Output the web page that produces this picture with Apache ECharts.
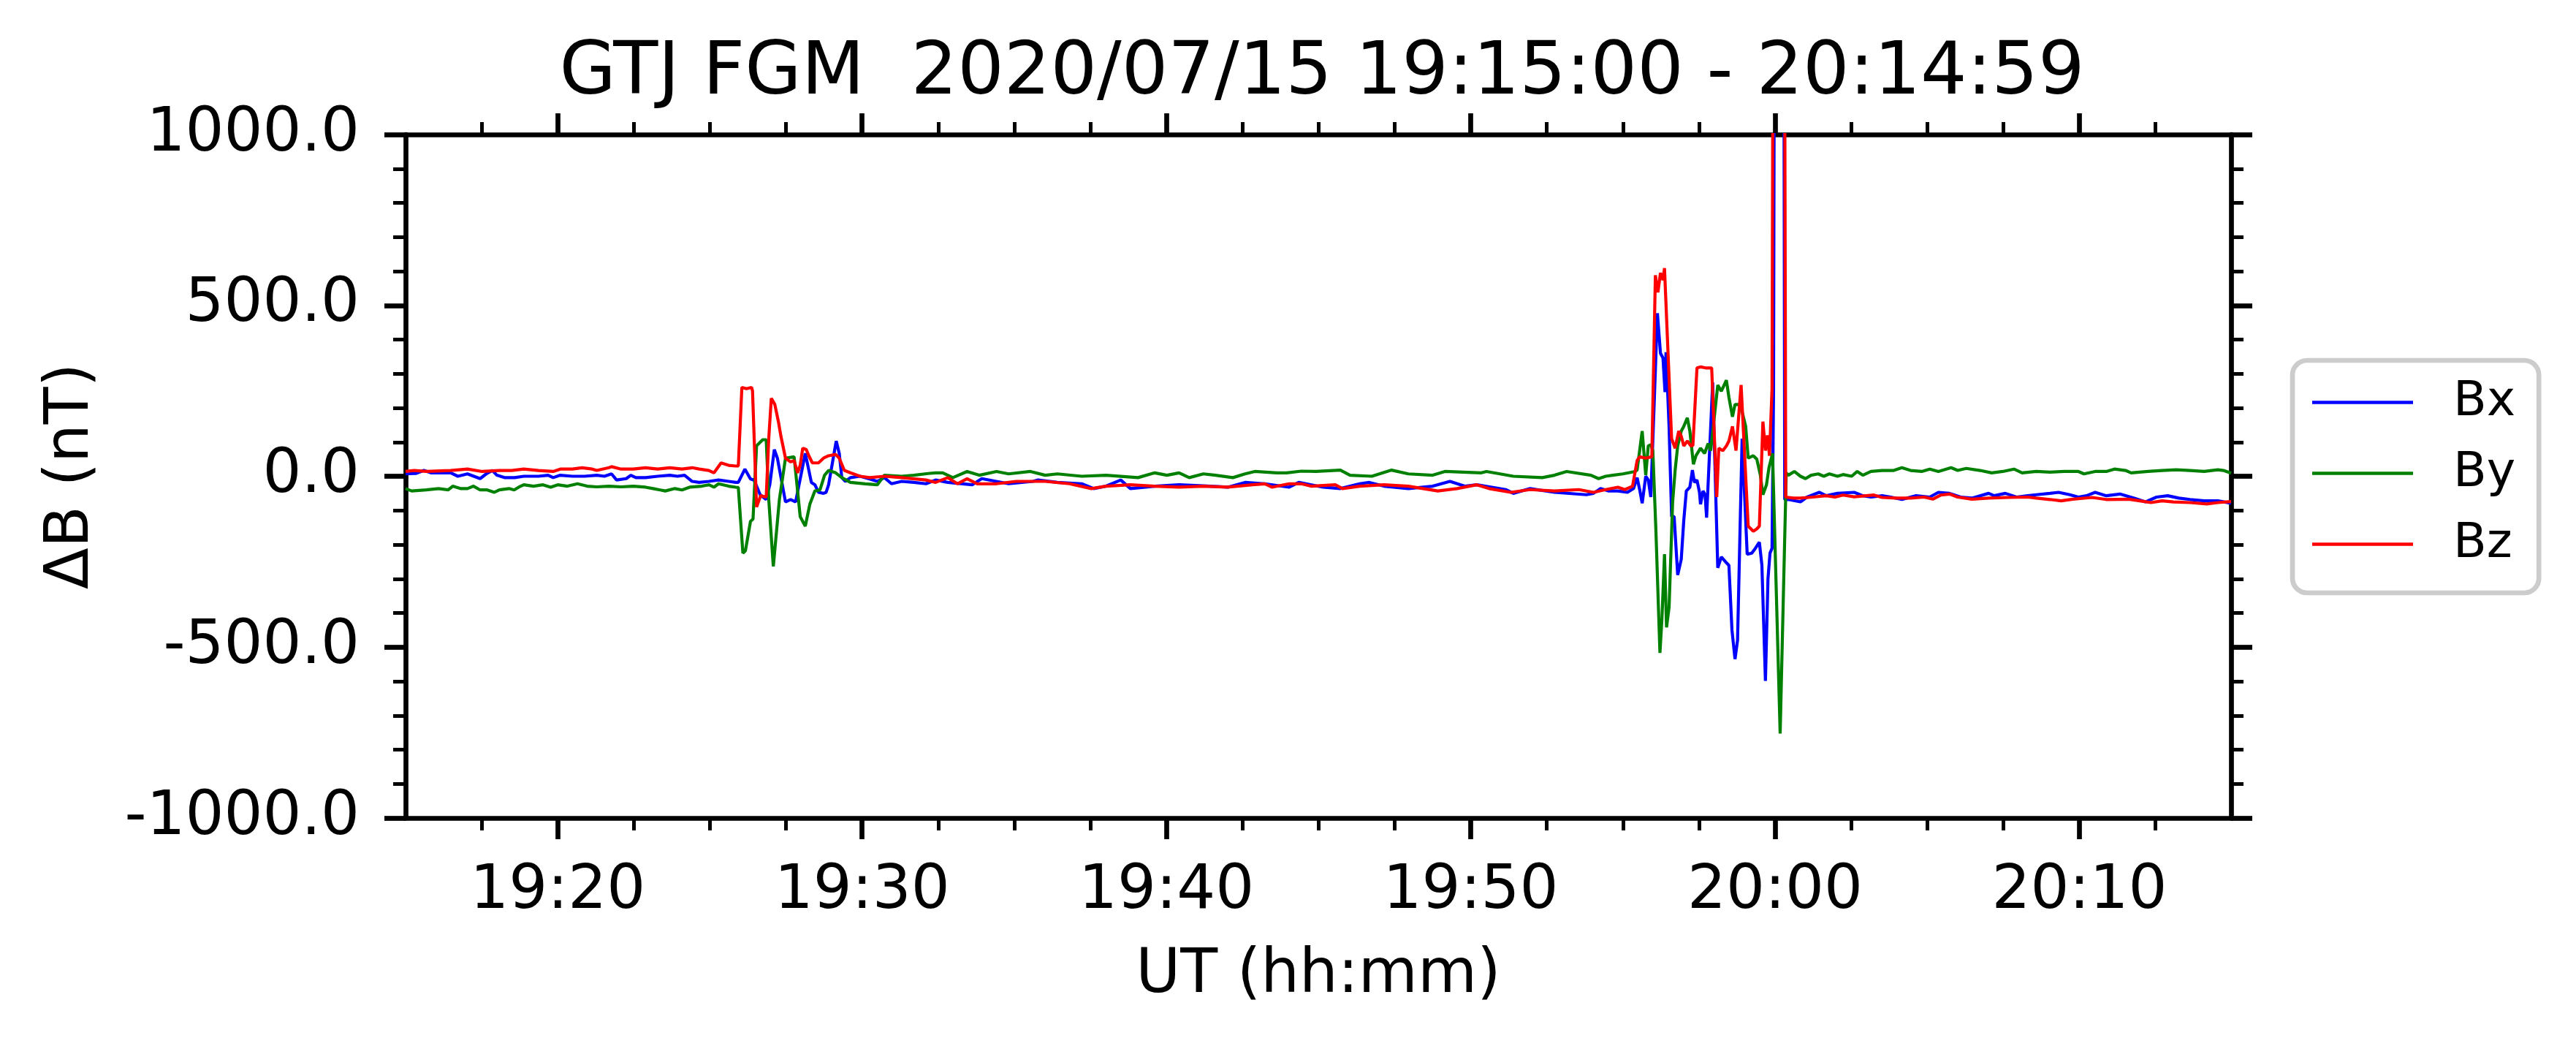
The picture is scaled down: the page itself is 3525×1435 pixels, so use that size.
<!DOCTYPE html>
<html>
<head>
<meta charset="utf-8">
<script src="https://cdn.jsdelivr.net/npm/echarts@6/dist/echarts.min.js"></script>
<style>
html,body{margin:0;padding:0;background:#fff;}
#chart{width:3525px;height:1435px;}
</style>
</head>
<body>
<div id="chart"></div>
<script>
// time in seconds after 19:15:00 UT, values in nT
const bxTime = [0,20,36,50,89,103,122,147,159,171,180,195,215,233,262,281,291,305,329,353,377,392,406,416,435,444,454,473,497,521,536,550,565,579,598,617,637,651,656,669,680,687,699,711,718,727,733,749,759,769,788,800,807,814,824,829,834,849,855,860,867,877,896,915,930,944,958,978,1002,1026,1045,1069,1117,1136,1189,1237,1247,1285,1333,1357,1381,1410,1429,1477,1525,1573,1621,1655,1694,1742,1761,1809,1843,1881,1900,1929,1977,2025,2059,2088,2112,2169,2184,2217,2265,2328,2342,2356,2371,2390,2409,2421,2428,2433,2438,2445,2450,2455,2468,2474,2479,2483,2485,2491,2496,2501,2508,2515,2520,2525,2532,2537,2541,2546,2551,2553,2558,2562,2565,2577,2587,2594,2604,2609,2615,2621,2626,2635,2645,2654,2661,2669,2674,2681,2686,2690,2694,2697,2700,2716,2719,2726,2750,2763,2787,2801,2823,2856,2873,2889,2911,2928,2950,2978,3005,3022,3044,3066,3088,3121,3132,3154,3176,3198,3215,3242,3259,3281,3298,3314,3331,3353,3380,3408,3430,3452,3474,3496,3518,3546,3573,3599];
const bxValue = [7,8,17,10,10,0,7,-7,7,17,3,-4,-4,0,0,3,-4,3,0,0,3,0,7,-11,-7,3,-4,-4,0,3,0,3,-15,-18,-15,-11,-15,-18,-18,21,-8,-11,-54,-68,-25,78,53,-75,-68,-75,67,-18,-25,-47,-50,-47,-25,103,67,-4,-15,-4,0,-8,-15,-4,-22,-15,-18,-22,-11,-18,-25,-7,-22,-15,-11,-18,-22,-36,-29,-11,-36,-29,-25,-28,-32,-18,-22,-32,-18,-32,-36,-22,-18,-29,-36,-29,-15,-29,-25,-39,-50,-36,-47,-54,-50,-36,-43,-43,-47,-36,-4,-39,-79,0,-11,-61,477,360,346,246,363,146,-118,-118,-289,-243,-129,-43,-32,18,-18,-11,-47,-82,-43,-54,-121,274,-268,-236,-253,-261,-450,-535,-480,110,-228,-225,-211,-193,-260,-599,-300,-225,-211,246,2500,2500,-68,-68,-75,-61,-47,-57,-50,-47,-57,-61,-57,-61,-68,-57,-61,-47,-50,-61,-64,-50,-57,-50,-61,-57,-54,-50,-47,-54,-61,-57,-47,-57,-52,-64,-75,-61,-57,-64,-68,-72,-72,-79];

const byTime = [0,12,41,65,84,93,108,122,134,147,161,175,185,204,214,223,233,252,271,286,300,319,339,358,377,401,425,449,473,488,502,512,531,545,560,584,598,608,617,637,651,656,665,670,680,685,692,704,711,716,725,737,749,766,778,788,797,807,817,826,834,848,860,877,906,930,944,978,1002,1030,1045,1059,1079,1107,1131,1165,1189,1232,1261,1285,1333,1381,1444,1477,1501,1525,1545,1573,1597,1631,1655,1674,1718,1737,1766,1795,1843,1862,1905,1944,1977,2025,2049,2121,2131,2184,2241,2265,2289,2337,2352,2366,2380,2400,2424,2428,2438,2445,2450,2455,2459,2465,2473,2477,2482,2486,2491,2498,2503,2508,2515,2520,2527,2532,2539,2544,2553,2561,2568,2573,2587,2594,2604,2609,2616,2621,2628,2635,2642,2647,2657,2664,2671,2676,2683,2688,2695,2710,2722,2726,2738,2750,2760,2771,2785,2796,2807,2823,2834,2851,2862,2873,2889,2911,2934,2950,2967,2989,3005,3022,3047,3060,3077,3104,3127,3149,3171,3187,3215,3242,3270,3298,3309,3331,3353,3369,3391,3402,3435,3463,3491,3518,3546,3573,3584,3599];
const byValue = [-36,-43,-40,-36,-40,-29,-36,-36,-29,-40,-40,-47,-40,-36,-40,-32,-25,-29,-25,-32,-25,-29,-22,-29,-31,-29,-31,-29,-32,-36,-40,-43,-36,-40,-32,-29,-25,-32,-22,-29,-32,-33,-225,-218,-132,-125,89,107,107,-68,-264,-68,53,57,-118,-146,-82,-43,-40,3,17,10,-4,-18,-22,-25,3,0,3,8,10,10,-4,14,3,14,7,14,3,7,0,3,-4,10,3,10,-4,7,3,-4,7,14,10,10,15,14,18,3,0,18,7,3,14,10,14,0,-4,3,14,3,-7,0,3,7,14,18,132,3,89,92,75,-157,-517,-415,-228,-442,-384,-76,18,89,132,146,171,132,35,60,82,67,96,75,267,249,281,231,174,210,210,189,146,53,60,50,3,-54,-25,25,67,-753,10,3,14,0,-7,3,7,0,7,0,5,0,14,3,14,17,17,25,17,14,21,14,25,17,23,17,10,14,21,10,14,12,14,14,7,14,14,21,17,10,14,17,19,17,14,19,17,9];

const bzTime = [0,17,41,89,122,151,185,209,233,262,291,305,329,348,368,377,401,406,425,449,473,497,521,545,565,579,598,608,622,637,651,656,663,672,682,684,692,700,711,716,721,728,735,740,749,759,766,773,778,783,790,795,802,814,824,834,848,855,865,877,896,915,944,978,1026,1045,1069,1088,1107,1127,1165,1204,1261,1309,1352,1381,1429,1477,1525,1573,1621,1670,1694,1708,1742,1766,1785,1833,1847,1881,1929,1977,2035,2073,2112,2136,2179,2217,2265,2313,2342,2366,2390,2404,2419,2428,2433,2445,2457,2464,2469,2474,2479,2482,2496,2503,2510,2515,2520,2527,2534,2538,2546,2553,2563,2575,2585,2589,2597,2604,2609,2616,2623,2633,2647,2657,2664,2669,2676,2681,2685,2689,2694,2698,2717,2721,2736,2750,2774,2801,2818,2834,2856,2895,2911,2939,2967,2994,3011,3027,3044,3060,3088,3121,3160,3198,3215,3242,3264,3287,3325,3353,3397,3419,3441,3463,3485,3518,3551,3573,3599];
const bzValue = [14,17,14,17,21,14,17,17,21,17,14,21,21,25,21,17,25,28,21,21,25,21,25,21,25,21,17,10,39,32,30,30,260,256,260,250,-90,-57,-61,110,228,210,160,117,53,42,46,10,32,82,78,60,39,39,53,60,64,53,17,10,0,-4,0,-4,-11,-18,-4,-22,-7,-22,-22,-15,-15,-22,-36,-29,-25,-29,-32,-29,-32,-25,-22,-32,-22,-22,-29,-25,-36,-29,-25,-29,-43,-36,-25,-36,-47,-39,-43,-39,-47,-39,-32,-39,-29,46,57,53,57,588,538,595,574,609,110,82,132,117,89,103,89,90,317,320,317,317,-61,82,75,89,103,146,75,267,-146,-161,-154,-146,160,75,120,60,256,2500,2500,-61,-64,-64,-61,-57,-61,-55,-60,-55,-62,-64,-64,-61,-67,-55,-52,-61,-67,-64,-62,-61,-64,-68,-72,-67,-62,-68,-67,-72,-77,-72,-75,-77,-81,-77,-74];

const seriesNames = ['Bx', 'By', 'Bz'];
const seriesColors = ['#0000ff', '#008000', '#ff0000'];
const majorTimeTicks = [300, 900, 1500, 2100, 2700, 3300];
const minorTimeTicks = [150, 450, 600, 750, 1050, 1200, 1350, 1650, 1800, 1950, 2250, 2400, 2550, 2850, 3000, 3150, 3450];
const titleText = 'GTJ FGM  2020/07/15 19:15:00 - 20:14:59';

const FONT = "'DejaVu Sans', sans-serif";
const startSec = 19 * 3600 + 15 * 60;
function fmtTime(v) {
  const s = startSec + Math.round(v);
  const h = Math.floor(s / 3600) % 24;
  const m = Math.floor((s % 3600) / 60);
  return String(h).padStart(2, '0') + ':' + String(m).padStart(2, '0');
}
function pairs(t, v) { return t.map((x, i) => [x, v[i]]); }

const black = '#000000';
const spineW = 6.7, majorLen = 29, majorW = 6.7, minorLen = 17, minorW = 5;
const tickFont = 83.3;

function xAxisDef(pos, major, showLine, showLabel) {
  return {
    type: 'value', gridIndex: 0, position: pos, min: 0, max: 3599,
    axisLine: { show: showLine, onZero: false, lineStyle: { color: black, width: spineW } },
    axisTick: { show: true, customValues: major ? majorTimeTicks : minorTimeTicks,
      length: major ? majorLen : minorLen, lineStyle: { color: black, width: major ? majorW : minorW } },
    axisLabel: { show: showLabel, customValues: majorTimeTicks, formatter: fmtTime,
      margin: 60, fontSize: tickFont, fontFamily: FONT, color: black },
    splitLine: { show: false },
    name: showLabel ? 'UT (hh:mm)' : '', nameLocation: 'middle', nameGap: 175,
    nameTextStyle: { fontSize: tickFont, fontFamily: FONT, color: black }
  };
}
function yAxisDef(pos, showLabel) {
  return {
    type: 'value', gridIndex: 0, position: pos, min: -1000, max: 1000, interval: 500,
    axisLine: { show: true, onZero: false, lineStyle: { color: black, width: spineW } },
    axisTick: { show: true, length: majorLen, lineStyle: { color: black, width: majorW } },
    minorTick: { show: true, splitNumber: 5, length: minorLen, lineStyle: { color: black, width: minorW } },
    axisLabel: { show: true, margin: 63, formatter: showLabel ? (v => v.toFixed(1)) : (() => ''),
      fontSize: tickFont, fontFamily: FONT, color: black },
    splitLine: { show: false }, minorSplitLine: { show: false },
    name: showLabel ? 'ΔB (nT)' : '', nameLocation: 'middle', nameRotate: 90, nameGap: 415,
    nameTextStyle: { fontSize: tickFont, fontFamily: FONT, color: black }
  };
}

const dataSets = [pairs(bxTime, bxValue), pairs(byTime, byValue), pairs(bzTime, bzValue)];

const chart = echarts.init(document.getElementById('chart'), null, { renderer: 'canvas' });
chart.setOption({
  animation: false,
  backgroundColor: '#ffffff',
  title: {
    text: titleText, left: 1804, top: 47, textAlign: 'center',
    textStyle: { fontSize: 100, fontWeight: 'normal', fontFamily: FONT, color: black }
  },
  grid: { left: 555, top: 184, width: 2498, height: 935, containLabel: false },
  legend: {
    orient: 'vertical', left: 3137, top: 493, icon: 'rect', selectedMode: false,
    itemWidth: 138, itemHeight: 4.5, itemGap: 30,
    padding: [24, 32, 33, 27],
    backgroundColor: '#ffffff', borderColor: '#cccccc', borderWidth: 6.7, borderRadius: 20,
    textStyle: { fontSize: 66.7, lineHeight: 67, fontFamily: FONT, color: black, padding: [0, 0, 0, 50] },
    data: seriesNames
  },
  xAxis: [
    xAxisDef('bottom', true, true, true),
    xAxisDef('bottom', false, false, false),
    xAxisDef('top', true, true, false),
    xAxisDef('top', false, false, false)
  ],
  yAxis: [ yAxisDef('left', true), yAxisDef('right', false) ],
  series: seriesNames.map((n, i) => ({
    name: n, type: 'line', xAxisIndex: 0, yAxisIndex: 0,
    data: dataSets[i], showSymbol: false, symbol: 'none', clip: true,
    lineStyle: { color: seriesColors[i], width: 4.2 }, itemStyle: { color: seriesColors[i] },
    emphasis: { disabled: true }
  }))
});
</script>
</body>
</html>
